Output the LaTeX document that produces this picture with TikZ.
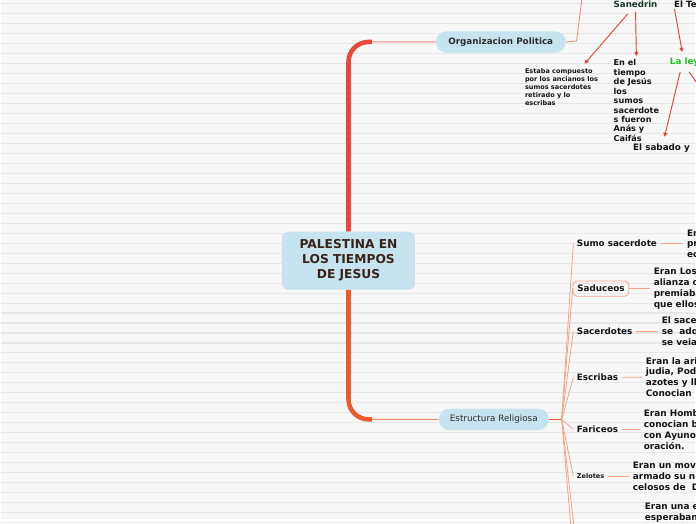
\documentclass[tikz,border=0pt]{standalone}
\usepackage{fontspec}
\setmainfont{DejaVu Sans}
\usetikzlibrary{arrows.meta,calc}

\definecolor{paper}{HTML}{F7F7F7}
\definecolor{paperline}{HTML}{E7E7E7}
\definecolor{topicblue}{HTML}{C5E4EF}
\definecolor{titlebrown}{HTML}{3B2216}
\definecolor{trunkred}{HTML}{E8473A}
\definecolor{trunkorange}{HTML}{EA5A2C}
\definecolor{branchpink}{HTML}{F2877C}
\definecolor{branchorange}{HTML}{F08A62}
\definecolor{fansalmon}{HTML}{F5A486}
\definecolor{arrowred}{HTML}{E8443A}
\definecolor{leygreen}{HTML}{1FC21F}
\definecolor{sanedringreen}{HTML}{183828}
\definecolor{inkdark}{HTML}{141414}

\tikzset{
  maintopic/.style={fill=topicblue, rounded corners=4pt, minimum width=99.75pt,
    minimum height=43.5pt, align=center, text=titlebrown,
    font=\fontsize{9.2}{11.3}\selectfont\bfseries},
  pilltopic/.style={fill=topicblue, rounded corners=7.8pt, minimum height=16pt,
    text=inkdark!90, font=\fontsize{6.6}{7.5}\selectfont\bfseries},
  childtopic/.style={anchor=west, inner sep=2.5pt, text=inkdark,
    font=\fontsize{6.6}{7.8}\selectfont\bfseries},
  detailtext/.style={anchor=west, inner sep=2.5pt, align=left, text=inkdark,
    font=\fontsize{6.7}{8.1}\selectfont\bfseries},
  trunk/.style={line width=3.4pt, rounded corners=15pt},
  branchthin/.style={line width=0.8pt, rounded corners=15pt},
  fanline/.style={draw=fansalmon, line width=0.6pt},
  redarrow/.style={draw=arrowred, line width=0.7pt, ->}
}

\begin{document}
\begin{tikzpicture}[x=0.75pt, y=-0.75pt, >={Triangle[length=3pt,width=3pt]}]

  % Paper
  \fill[paper] (0,0) rectangle (696,520);
  \foreach \yy in {3.5,13.5,...,523.5}
    \draw[paperline, line width=0.8pt] (0,\yy) -- (696,\yy);
  \useasboundingbox (0,0) rectangle (696,520);

  % Main topics
  \node[maintopic] (root) at (348.5,261) {PALESTINA EN\\LOS TIEMPOS\\DE JESUS};
  \node[pilltopic, minimum width=97.5pt] (orgpol) at (501,42) {Organizacion Politica};
  \node[pilltopic, minimum width=82.5pt, font=\fontsize{6.6}{7.5}\selectfont] (estrrel)
    at (494,420) {Estructura Religiosa};

  \coordinate (topbend) at (372,42);
  \coordinate (botbend) at (372,420);
  \coordinate (hub) at (562,420);

  % Trunk
  \draw[branchthin, draw=branchpink] (root.north) |- (orgpol.west);
  \draw[trunk, draw=trunkred] (root.north) |- (topbend);
  \draw[branchthin, draw=branchorange] (root.south) |- (estrrel.west);
  \draw[trunk, draw=trunkorange] (root.south) |- (botbend);

  % Organizacion Politica
  \coordinate (topelbow) at (577,41);
  \coordinate (topexit) at (582.5,-3);
  \draw[branchpink, line width=0.6pt] (orgpol.east) -- (topelbow) -- (topexit);

  \node[text=sanedringreen, font=\fontsize{6.5}{7.5}\selectfont\bfseries] (sanedrin)
    at (636,4) {Sanedrin};
  \node[anchor=west, text=inkdark, font=\fontsize{6.5}{7.5}\selectfont\bfseries] (elte)
    at (670,4) {El Te};
  \node[anchor=west, text=leygreen, font=\fontsize{6.6}{7.5}\selectfont\bfseries] (ley)
    at (665.7,62) {La ley};
  \node[anchor=west, inner sep=2.5pt, align=left, text=inkdark,
    font=\fontsize{4.9}{6}\selectfont\bfseries] (compuesto) at (521.7,87)
    {Estaba compuesto\\por los ancianos los\\sumos sacerdotes\\retirado y lo\\escribas};
  \node[anchor=west, inner sep=2.5pt, align=left, text=inkdark,
    font=\fontsize{6.1}{7.1}\selectfont\bfseries] (tiempo) at (610.5,100.7)
    {En el\\tiempo\\de Jesús\\los\\sumos\\sacerdote\\s fueron\\Anás y\\Caifás};
  \node[text=inkdark, font=\fontsize{6.6}{7.5}\selectfont\bfseries] (sabado)
    at (662,148) {El sabado y};

  \coordinate (leyexit) at (698,84);
  \draw[redarrow] ($(sanedrin.south)+(-8,2)$) -- ($(compuesto.north east)+(-17,-1)$);
  \draw[redarrow] (sanedrin.south) -- (tiempo.north);
  \draw[redarrow] ($(elte.south west)+(5,-3)$) -- ($(ley.north west)+(17,-1)$);
  \draw[redarrow] ($(ley.south west)+(15,1)$) -- ($(sabado.north)+(3,-2)$);
  \draw[arrowred, line width=0.7pt] ($(ley.south west)+(24,1)$) -- (leyexit);

  % Estructura Religiosa
  \node[childtopic] (sumo) at (573.7,244) {Sumo sacerdote};
  \node[childtopic, draw=fansalmon, line width=0.6pt, rounded corners=3pt,
    inner xsep=3.2pt, inner ysep=3.2pt] (saduceos) at (573,289) {Saduceos};
  \node[childtopic] (sacerd) at (573.7,331.5) {Sacerdotes};
  \node[childtopic] (escribas) at (573.7,378) {Escribas};
  \node[childtopic] (fariceos) at (573.7,430) {Fariceos};
  \node[childtopic, font=\fontsize{4.9}{6}\selectfont\bfseries] (zelotes)
    at (573.7,477) {Zelotes};

  \node[detailtext] (sumodesc) at (684,244) {En\\pr\\ec};
  \node[detailtext] (saddesc) at (650.7,289) {Eran Los\\alianza co\\premiaba\\que ellos,};
  \node[detailtext] (sacdesc) at (658.7,331.5) {El sace\\se~~adq\\se veia};
  \node[detailtext] (escdesc) at (642.7,377.5) {Eran la ari\\judia, Pod\\azotes y ll\\Conocian};
  \node[detailtext] (fardesc) at (640.7,430.5) {Eran Homb\\conocian b\\con Ayuno\\oración.};
  \node[detailtext] (zeldesc) at (629.7,477) {Eran un mov\\armado su n\\celosos de~~D};
  \node[detailtext] (lastdesc) at (641.7,513.5) {Eran una e\\esperaban};

  \coordinate (fanexita) at (571,525);
  \coordinate (fanexitb) at (574,525);

  \draw[trunkorange, line width=0.9pt] (estrrel.east) -- (hub);
  \foreach \kid in {sumo,saduceos,sacerd,escribas,fariceos,zelotes}
    \draw[fanline] (hub) -- (\kid.west);
  \draw[fanline] (hub) -- (fanexita);
  \draw[fanline] (hub) -- (fanexitb);

  \draw[fanline] (sumo) -- (sumodesc);
  \draw[fanline] (saduceos) -- (saddesc);
  \draw[fanline] (sacerd) -- (sacdesc);
  \draw[fanline] (escribas) -- (escdesc);
  \draw[fanline] (fariceos) -- (fardesc);
  \draw[fanline] (zelotes) -- (zeldesc);

\end{tikzpicture}
\end{document}
